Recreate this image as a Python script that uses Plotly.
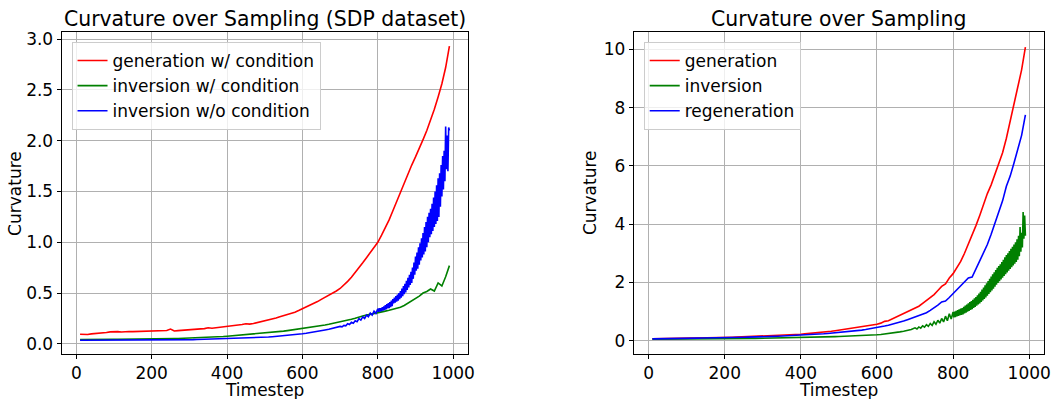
import plotly.graph_objects as go

# ---------------- data ----------------
# Timesteps sampled every 10 steps
t_coarse = list(range(10, 991, 10))
# Denser sampling for the noisy tail: every 10 up to 690, every 5 to 795, then every 2
t_fine = list(range(10, 700, 10)) + list(range(700, 800, 5)) + list(range(800, 991, 2))

# Left panel: SDP dataset
sdp_generation_cond = [
    0.095, 0.090, 0.092, 0.098, 0.100, 0.104, 0.108, 0.112, 0.118, 0.120,
    0.120, 0.116, 0.120, 0.121, 0.120, 0.121, 0.122, 0.124, 0.125, 0.126,
    0.126, 0.128, 0.130, 0.131, 0.145, 0.126, 0.130, 0.134, 0.136, 0.139,
    0.140, 0.143, 0.147, 0.150, 0.158, 0.154, 0.158, 0.163, 0.166, 0.170,
    0.175, 0.180, 0.185, 0.190, 0.198, 0.194, 0.200, 0.208, 0.218, 0.226,
    0.234, 0.244, 0.254, 0.266, 0.276, 0.287, 0.298, 0.312, 0.328, 0.345,
    0.360, 0.378, 0.396, 0.416, 0.438, 0.458, 0.476, 0.498, 0.520, 0.545,
    0.578, 0.615, 0.655, 0.700, 0.748, 0.798, 0.848, 0.895, 0.945, 1.000,
    1.070, 1.140, 1.220, 1.310, 1.400, 1.490, 1.580, 1.680, 1.760, 1.840,
    1.920, 2.010, 2.100, 2.200, 2.310, 2.430, 2.560, 2.720, 2.930,
]
sdp_inversion_cond = [
    0.042, 0.043, 0.043, 0.043, 0.044, 0.044, 0.044, 0.045, 0.045, 0.045,
    0.045, 0.045, 0.046, 0.046, 0.046, 0.046, 0.047, 0.047, 0.047, 0.048,
    0.048, 0.049, 0.050, 0.050, 0.051, 0.052, 0.053, 0.054, 0.056, 0.058,
    0.059, 0.060, 0.062, 0.063, 0.065, 0.066, 0.068, 0.070, 0.072, 0.075,
    0.078, 0.080, 0.083, 0.086, 0.090, 0.093, 0.096, 0.099, 0.102, 0.105,
    0.109, 0.113, 0.117, 0.121, 0.125, 0.130, 0.135, 0.140, 0.145, 0.150,
    0.155, 0.160, 0.166, 0.172, 0.180, 0.186, 0.193, 0.200, 0.207, 0.215,
    0.222, 0.232, 0.242, 0.252, 0.265, 0.274, 0.283, 0.292, 0.302, 0.310,
    0.316, 0.322, 0.330, 0.340, 0.350, 0.360, 0.378, 0.400, 0.425, 0.450,
    0.470, 0.500, 0.515, 0.540, 0.520, 0.600, 0.570, 0.660, 0.770,
]
sdp_inversion_uncond = [
    # t = 10 .. 690, every 10
    0.035, 0.035, 0.035, 0.035, 0.035, 0.036, 0.036, 0.036, 0.036, 0.036,
    0.036, 0.036, 0.036, 0.037, 0.037, 0.037, 0.037, 0.037, 0.037, 0.037,
    0.038, 0.038, 0.038, 0.039, 0.039, 0.040, 0.040, 0.041, 0.041, 0.042,
    0.042, 0.043, 0.044, 0.044, 0.045, 0.046, 0.047, 0.048, 0.049, 0.050,
    0.051, 0.052, 0.053, 0.054, 0.055, 0.057, 0.058, 0.060, 0.062, 0.065,
    0.067, 0.070, 0.073, 0.076, 0.080, 0.083, 0.087, 0.091, 0.095, 0.100,
    0.105, 0.110, 0.116, 0.122, 0.130, 0.137, 0.144, 0.152, 0.160,
    # t = 700 .. 795, every 5
    0.172, 0.168, 0.182, 0.177, 0.198, 0.190, 0.212, 0.203, 0.228, 0.218,
    0.248, 0.234, 0.265, 0.250, 0.283, 0.266, 0.302, 0.283, 0.322, 0.300,
    # t = 800 .. 990, every 2
    0.345, 0.315, 0.350, 0.318, 0.352, 0.322, 0.360, 0.328, 0.368, 0.332,
    0.380, 0.340, 0.392, 0.348, 0.400, 0.352, 0.410, 0.362, 0.425, 0.372,
    0.440, 0.398, 0.455, 0.405, 0.470, 0.415, 0.485, 0.425, 0.500, 0.440,
    0.520, 0.455, 0.545, 0.470, 0.570, 0.490, 0.590, 0.505, 0.620, 0.530,
    0.650, 0.555, 0.680, 0.580, 0.710, 0.600, 0.750, 0.640, 0.800, 0.680,
    0.860, 0.720, 0.900, 0.740, 0.950, 0.780, 0.990, 0.820, 1.040, 0.850,
    1.090, 0.880, 1.150, 0.910, 1.200, 0.950, 1.250, 1.000, 1.290, 1.050,
    1.330, 1.080, 1.380, 1.110, 1.440, 1.150, 1.500, 1.180, 1.560, 1.210,
    1.630, 1.250, 1.680, 1.350, 1.760, 1.450, 1.850, 1.520, 1.900, 1.600,
    2.140, 1.720, 2.050, 1.700, 2.130, 2.100,
]

# Right panel
generation = [
    0.060, 0.060, 0.065, 0.070, 0.070, 0.075, 0.075, 0.080, 0.080, 0.085,
    0.085, 0.090, 0.090, 0.090, 0.095, 0.095, 0.100, 0.100, 0.105, 0.110,
    0.110, 0.115, 0.120, 0.125, 0.130, 0.130, 0.135, 0.140, 0.145, 0.150,
    0.155, 0.160, 0.165, 0.170, 0.180, 0.185, 0.190, 0.200, 0.210, 0.220,
    0.230, 0.240, 0.250, 0.265, 0.280, 0.290, 0.300, 0.320, 0.340, 0.360,
    0.380, 0.400, 0.420, 0.440, 0.450, 0.470, 0.500, 0.520, 0.540, 0.560,
    0.600, 0.660, 0.680, 0.740, 0.800, 0.860, 0.920, 0.980, 1.050, 1.100,
    1.180, 1.280, 1.380, 1.480, 1.580, 1.720, 1.860, 1.950, 2.150, 2.300,
    2.500, 2.720, 3.000, 3.300, 3.600, 3.950, 4.300, 4.700, 5.050, 5.350,
    5.700, 6.100, 6.450, 6.950, 7.550, 8.150, 8.700, 9.300, 10.080,
]
inversion = [
    # t = 10 .. 690, every 10
    0.050, 0.050, 0.050, 0.051, 0.051, 0.052, 0.052, 0.053, 0.054, 0.055,
    0.055, 0.056, 0.057, 0.058, 0.059, 0.060, 0.061, 0.062, 0.063, 0.065,
    0.066, 0.067, 0.069, 0.070, 0.072, 0.073, 0.075, 0.076, 0.078, 0.080,
    0.082, 0.084, 0.086, 0.088, 0.090, 0.092, 0.094, 0.096, 0.098, 0.100,
    0.104, 0.108, 0.112, 0.116, 0.120, 0.124, 0.128, 0.132, 0.136, 0.140,
    0.144, 0.148, 0.152, 0.156, 0.160, 0.166, 0.172, 0.180, 0.190, 0.200,
    0.212, 0.225, 0.240, 0.258, 0.280, 0.300, 0.322, 0.345, 0.380,
    # t = 700 .. 795, every 5
    0.440, 0.400, 0.470, 0.430, 0.510, 0.460, 0.550, 0.490, 0.590, 0.520,
    0.650, 0.560, 0.700, 0.600, 0.760, 0.640, 0.840, 0.680, 0.920, 0.740,
    # t = 800 .. 990, every 2
    0.980, 0.800, 1.000, 0.810, 1.020, 0.830, 1.050, 0.850, 1.070, 0.870,
    1.100, 0.880, 1.120, 0.900, 1.160, 0.930, 1.200, 0.960, 1.240, 0.990,
    1.280, 1.020, 1.320, 1.050, 1.360, 1.080, 1.400, 1.120, 1.450, 1.160,
    1.500, 1.200, 1.560, 1.240, 1.620, 1.280, 1.680, 1.330, 1.750, 1.380,
    1.820, 1.430, 1.900, 1.480, 1.970, 1.540, 2.050, 1.600, 2.120, 1.660,
    2.200, 1.720, 2.280, 1.780, 2.350, 1.850, 2.420, 1.920, 2.500, 1.980,
    2.560, 2.040, 2.620, 2.100, 2.700, 2.160, 2.780, 2.220, 2.860, 2.280,
    2.940, 2.340, 3.000, 2.400, 3.080, 2.460, 3.150, 2.520, 3.220, 2.580,
    3.300, 2.640, 3.380, 2.700, 3.480, 2.780, 3.600, 2.900, 3.900, 3.050,
    3.700, 3.200, 4.420, 3.500, 4.300, 3.600,
]
regeneration = [
    0.060, 0.060, 0.065, 0.065, 0.070, 0.070, 0.075, 0.075, 0.080, 0.085,
    0.080, 0.085, 0.085, 0.090, 0.090, 0.090, 0.095, 0.095, 0.100, 0.100,
    0.100, 0.105, 0.110, 0.110, 0.115, 0.120, 0.120, 0.125, 0.130, 0.130,
    0.135, 0.140, 0.145, 0.150, 0.155, 0.160, 0.165, 0.170, 0.175, 0.180,
    0.190, 0.200, 0.210, 0.215, 0.225, 0.235, 0.245, 0.255, 0.270, 0.280,
    0.290, 0.300, 0.315, 0.330, 0.345, 0.360, 0.380, 0.400, 0.420, 0.450,
    0.470, 0.500, 0.530, 0.560, 0.590, 0.630, 0.670, 0.720, 0.770, 0.800,
    0.850, 0.900, 0.960, 1.040, 1.120, 1.220, 1.330, 1.360, 1.480, 1.620,
    1.740, 1.880, 2.020, 2.150, 2.180, 2.450, 2.720, 3.000, 3.300, 3.650,
    4.050, 4.450, 4.800, 5.300, 5.650, 6.100, 6.550, 7.050, 7.750,
]

# ---------------- styling ----------------
FONT = "DejaVu Sans"
RED, GREEN, BLUE = "#ff0000", "#008000", "#0000ff"
W, H = 1060, 399
M_T, M_B = 32, 45
PLOT_H = H - M_T - M_B
TICK_SIZE = 17
TITLE_SIZE = 20.4


def py(px):
    """Pixel row -> paper y coordinate."""
    return (H - M_B - px) / PLOT_H


fig = go.Figure()

left = [
    ("generation w/ condition", t_coarse, sdp_generation_cond, RED),
    ("inversion w/ condition", t_coarse, sdp_inversion_cond, GREEN),
    ("inversion w/o condition", t_fine, sdp_inversion_uncond, BLUE),
]
right = [
    ("generation", t_coarse, generation, RED),
    ("inversion", t_fine, inversion, GREEN),
    ("regeneration", t_coarse, regeneration, BLUE),
]

for i, (name, x, y, c) in enumerate(left):
    fig.add_trace(go.Scatter(x=x, y=y, name=name, mode="lines",
                             line=dict(color=c, width=1.6),
                             xaxis="x", yaxis="y", legend="legend",
                             legendgroup=f"l{i}"))
for i, (name, x, y, c) in enumerate(right):
    fig.add_trace(go.Scatter(x=x, y=y, name=name, mode="lines",
                             line=dict(color=c, width=1.6),
                             xaxis="x2", yaxis="y2", legend="legend2",
                             legendgroup=f"r{i}"))

axis_common = dict(
    showline=True, linecolor="black", linewidth=1, mirror=True,
    showgrid=True, gridcolor="#b0b0b0", gridwidth=0.8,
    ticks="outside", ticklen=4, tickcolor="black", tickwidth=1,
    tickfont=dict(family=FONT, size=TICK_SIZE, color="black"),
    zeroline=False,
)

LX0, LX1 = 62 / W, 471 / W
RX0, RX1 = 638 / W, 1051 / W

legend_common = dict(
    xanchor="left", yanchor="top",
    bgcolor="rgba(255,255,255,0.8)", bordercolor="#cccccc", borderwidth=1,
    font=dict(family=FONT, size=TICK_SIZE, color="black"),
    tracegroupgap=3, traceorder="normal",
)

fig.update_layout(
    width=W, height=H,
    margin=dict(l=0, r=0, t=M_T, b=M_B),
    paper_bgcolor="white", plot_bgcolor="white",
    font=dict(family=FONT, color="black"),
    xaxis=dict(domain=[LX0, LX1], range=[-39, 1039], tickvals=[0, 200, 400, 600, 800, 1000],
               anchor="y", **axis_common),
    yaxis=dict(domain=[0, 1], range=[-0.1, 3.07], tickvals=[0, 0.5, 1, 1.5, 2, 2.5, 3],
               ticktext=["0.0", "0.5", "1.0", "1.5", "2.0", "2.5", "3.0"],
               anchor="x", **axis_common),
    xaxis2=dict(domain=[RX0, RX1], range=[-39, 1039], tickvals=[0, 200, 400, 600, 800, 1000],
                anchor="y2", **axis_common),
    yaxis2=dict(domain=[0, 1], range=[-0.46, 10.6], tickvals=[0, 2, 4, 6, 8, 10],
                anchor="x2", **axis_common),
    legend=dict(x=72 / W, y=py(42), **legend_common),
    legend2=dict(x=648 / W, y=py(42), **legend_common),
    showlegend=True,
)

annotations = [
    dict(text="Curvature over Sampling (SDP dataset)", x=(LX0 + LX1) / 2, y=py(19),
         size=TITLE_SIZE),
    dict(text="Curvature over Sampling", x=(RX0 + RX1) / 2, y=py(19), size=TITLE_SIZE),
    dict(text="Timestep", x=(LX0 + LX1) / 2, y=py(390), size=TICK_SIZE),
    dict(text="Timestep", x=(RX0 + RX1) / 2, y=py(390), size=TICK_SIZE),
    dict(text="Curvature", x=15 / W, y=py(193), textangle=-90, size=TICK_SIZE),
    dict(text="Curvature", x=594 / W, y=py(193), textangle=-90, size=TICK_SIZE),
]
for a in annotations:
    size = a.pop("size")
    fig.add_annotation(xref="paper", yref="paper", showarrow=False,
                       xanchor="center", yanchor="middle",
                       font=dict(family=FONT, color="black", size=size), **a)

fig.write_html("out.html")
